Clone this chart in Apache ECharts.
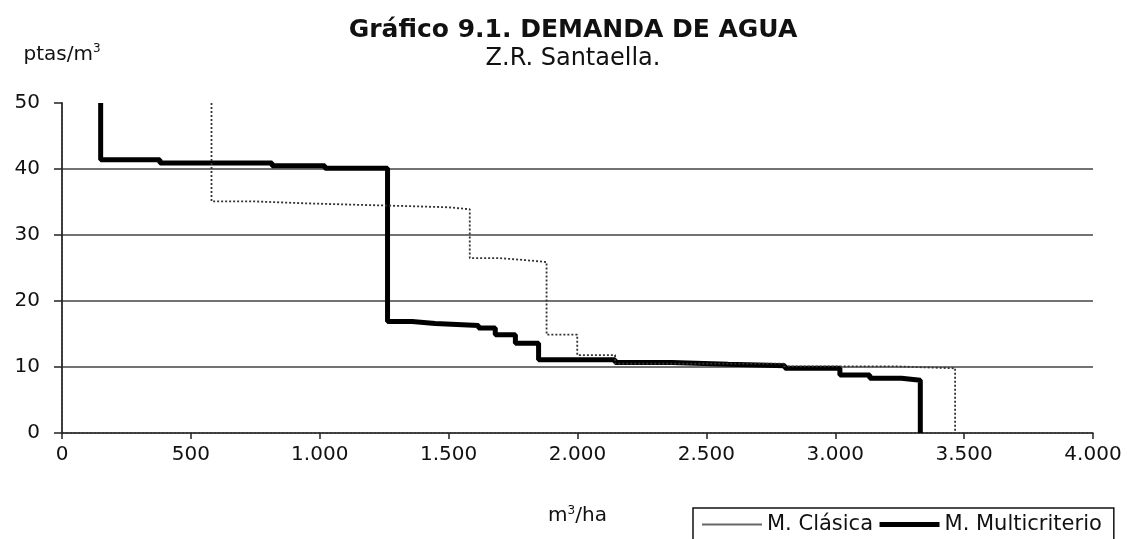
<!DOCTYPE html>
<html><head><meta charset="utf-8">
<script src="https://cdn.jsdelivr.net/npm/echarts@6/dist/echarts.min.js"></script>
<style>html,body{margin:0;padding:0;background:#fff}#c{width:1127px;height:539px}</style>
</head><body><div id="c"></div>
<script>
const titleText = 'Gráfico 9.1. DEMANDA DE AGUA';
const subtitleText = 'Z.R. Santaella.';
const yAxisName = 'ptas/m{sup|3}';
const xAxisName = 'm{sup|3}/ha';
const seriesNames = ['M. Clásica', 'M. Multicriterio'];

// Step points: each y holds from its x until the next x
const clasicaX = [580, 580, 738, 945, 1125, 1319, 1500, 1582, 1694, 1797, 1880, 1999, 2146, 2800, 3230, 3465];
const clasicaY = [50, 35.1, 34.8, 34.6, 34.4, 34.2, 33.9, 26.5, 26.2, 25.9, 14.9, 11.8, 10.5, 10.1, 9.8, 0];

const multiX = [150, 150, 380, 815, 1020, 1263, 1358, 1448, 1616, 1681, 1759, 1849, 2146, 2366, 2585, 2805, 3018, 3134, 3257, 3330];
const multiY = [50, 41.4, 40.9, 40.5, 40.1, 16.9, 16.6, 16.3, 15.9, 14.9, 13.6, 11.1, 10.7, 10.4, 10.2, 9.8, 8.8, 8.3, 8.0, 0];

const FONT = 'DejaVu Sans';
const zip = (xs, ys) => xs.map((x, i) => [x, ys[i]]);
const fmt = v => v >= 1000 ? Math.floor(v / 1000) + '.' + String(v % 1000).padStart(3, '0') : String(v);

const chart = echarts.init(document.getElementById('c'), null, {renderer: 'canvas'});
chart.setOption({
  backgroundColor: '#ffffff',
  animation: false,
  title: {
    text: titleText,
    subtext: subtitleText,
    left: 568, top: 13, textAlign: 'center', itemGap: 4,
    textStyle: {fontFamily: FONT, fontSize: 25, fontWeight: 'bold', color: '#111'},
    subtextStyle: {fontFamily: FONT, fontSize: 24, color: '#111'}
  },
  legend: {
    left: 693, top: 508,
    padding: [6, 12, 12, 8],
    borderColor: '#111', borderWidth: 1.5,
    itemWidth: 60, itemHeight: 14, itemGap: 4,
    itemStyle: {opacity: 0},
    textStyle: {fontFamily: FONT, fontSize: 21, color: '#111'},
    data: [
      {name: seriesNames[0], lineStyle: {width: 2, color: '#666', type: 'solid'}},
      {name: seriesNames[1], lineStyle: {width: 5, color: '#000', type: 'solid'}}
    ]
  },
  grid: {left: 62, right: 34, top: 103, bottom: 106},
  xAxis: [{
    type: 'value', min: 0, max: 4000, interval: 500,
    name: xAxisName, nameLocation: 'middle', nameGap: 72,
    nameTextStyle: {fontFamily: FONT, fontSize: 20, color: '#111',
      rich: {sup: {fontFamily: FONT, fontSize: 12, color: '#111', verticalAlign: 'top', padding: [0, 0, 10, 0]}}},
    axisLine: {show: true, onZero: false, lineStyle: {color: '#222', width: 1.5}},
    axisTick: {show: true, length: 6, lineStyle: {color: '#222', width: 1.5}},
    axisLabel: {margin: 12, fontFamily: FONT, fontSize: 20, color: '#111', formatter: fmt},
    splitLine: {show: false}
  }, {
    type: 'value', min: 0, max: 4000, position: 'top',
    axisLine: {show: true, lineStyle: {color: '#333', width: 1.5, type: [2, 2]}},
    axisTick: {show: false}, axisLabel: {show: false}, splitLine: {show: false}
  }],
  yAxis: [{
    type: 'value', min: 0, max: 50, interval: 10,
    name: yAxisName, nameLocation: 'end', nameGap: 36,
    nameTextStyle: {fontFamily: FONT, fontSize: 20, color: '#111', align: 'center',
      rich: {sup: {fontFamily: FONT, fontSize: 12, color: '#111', padding: [0, 0, 12, 0]}}},
    axisLine: {show: true, lineStyle: {color: '#111', width: 1.5}},
    axisTick: {show: true, length: 8, lineStyle: {color: '#222', width: 1.5}},
    axisLabel: {margin: 22, fontFamily: FONT, fontSize: 20, color: '#111'},
    splitLine: {show: true, showMinLine: false, showMaxLine: false, lineStyle: {color: '#444', width: 1.5}}
  }, {
    type: 'value', min: 0, max: 50, position: 'right',
    axisLine: {show: true, lineStyle: {color: '#333', width: 1.5, type: [2, 2]}},
    axisTick: {show: false}, axisLabel: {show: false}, splitLine: {show: false}
  }],
  series: [{
    name: seriesNames[0], type: 'line', step: 'end', symbol: 'none',
    data: zip(clasicaX, clasicaY),
    lineStyle: {color: '#333', width: 1.8, type: [2, 2]},
    itemStyle: {color: '#333'},
    z: 3
  }, {
    name: seriesNames[1], type: 'line', step: 'end', symbol: 'none',
    data: zip(multiX, multiY),
    lineStyle: {color: '#000', width: 5},
    itemStyle: {color: '#000'},
    z: 2
  }]
});
</script></body></html>
